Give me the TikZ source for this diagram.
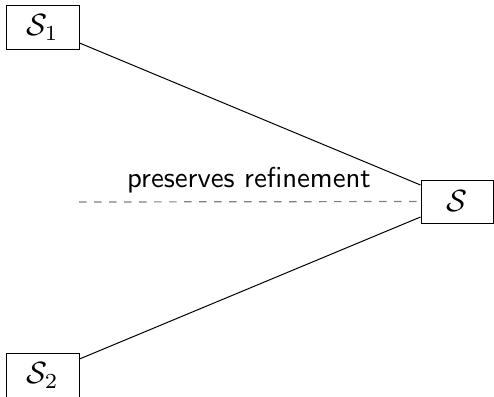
\documentclass[tikz,border=0pt]{standalone}
\newcommand\bigtext[1]{\scalebox{3.07}{#1}}
\newcommand\labeltext[1]{\scalebox{2.88}{#1}}
\begin{document}
\begin{tikzpicture}[x=1pt,y=-1pt,
  specbox/.style={draw, line width=1pt, minimum width=73pt, minimum height=43pt,
    inner sep=0pt},
  link/.style={line width=1pt},
  relation/.style={line width=1.2pt, gray, dash pattern=on 7.5pt off 7.5pt}]
  \useasboundingbox (0,0) rectangle (494,396);
  \node[specbox] (S1) at (42.5,27.5) {\bigtext{$\mathcal{S}_1$}};
  \node[specbox, minimum width=72pt] (S) at (457,201.5) {\bigtext{$\mathcal{S}$}};
  \node[specbox, minimum height=45pt] (S2) at (42.5,375.5) {\bigtext{$\mathcal{S}_2$}};
  \coordinate (dl) at (79,202);
  \draw[link] ([yshift=-15.5pt]S1.east) -- ([yshift=16.5pt]S.west);
  \draw[link] ([yshift=16.5pt]S2.east) -- ([yshift=-15.5pt]S.west);
  \draw[relation] (dl) -- (S.west);
  \node[anchor=base, inner sep=0pt] (lbl) at (249,187) {\labeltext{\sffamily preserves refinement}};
\end{tikzpicture}
\end{document}
